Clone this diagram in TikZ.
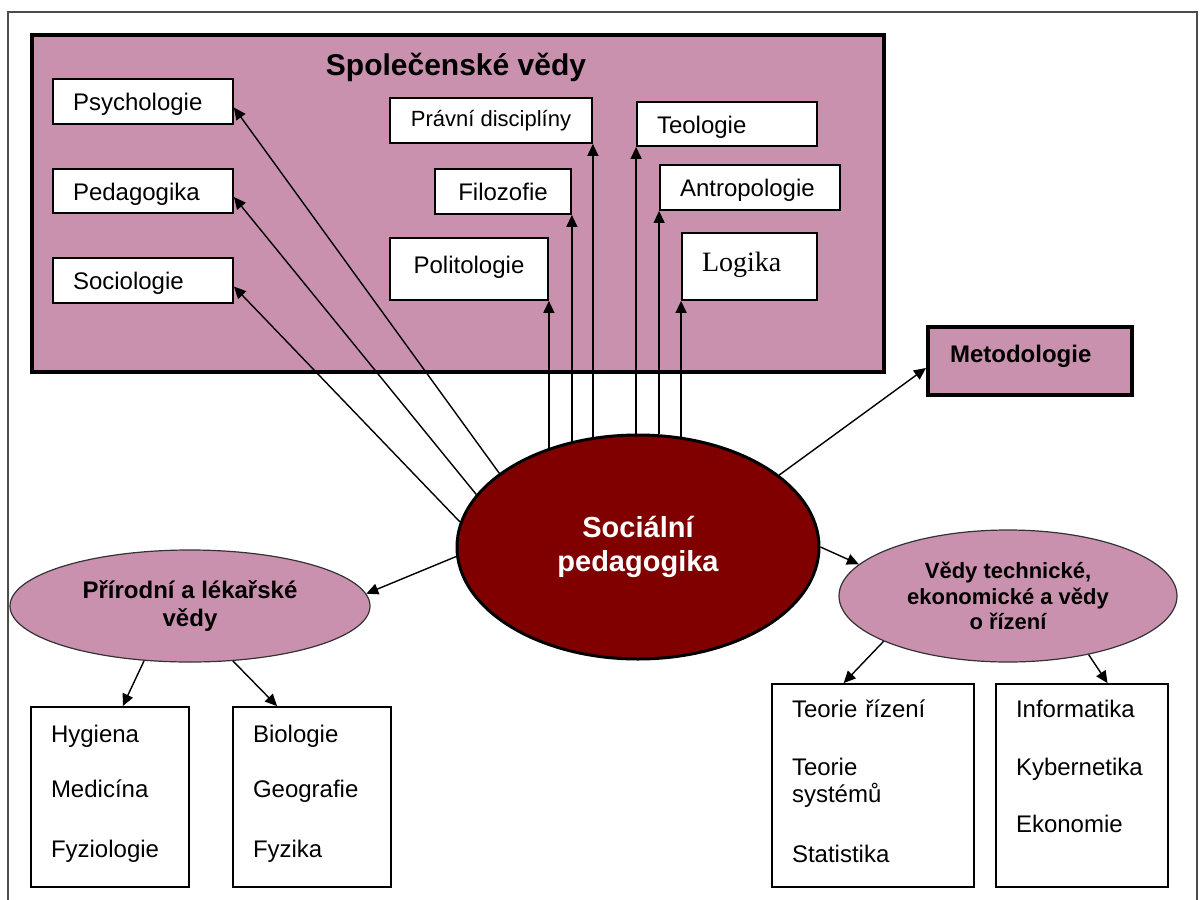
\documentclass[tikz,border=0pt]{standalone}
\usepackage{fontspec}
\setmainfont{Liberation Sans}
\newfontfamily\serifnode{Liberation Serif}
\usetikzlibrary{shapes.geometric,arrows.meta}
\definecolor{mauve}{RGB}{201,145,173}
\definecolor{spred}{RGB}{128,0,0}
\tikzset{
	sci/.style={draw,fill=white,line width=0.9pt,inner xsep=10pt,inner ysep=0pt,text height=11pt,text depth=2pt,font=\fontsize{12}{14.5}\selectfont},
	leftsci/.style={sci,align=left,text width=#1},
	grp/.style={ellipse,draw=black!80,line width=0.6pt,fill=mauve,inner sep=0pt,align=center},
	arr/.style={-{Triangle[length=6pt,width=5.5pt]},line width=0.7pt},
}

\begin{document}
\begin{tikzpicture}[x=0.5pt,y=-0.5pt]
		\useasboundingbox (0,0) rectangle (1200,900);
		\draw[line width=0.75pt,black!70] (8,910) -- (8,12) -- (1197,12) -- (1197,910);
		\node[draw,line width=2pt,fill=mauve,minimum width=426pt,minimum height=168.5pt] (sv) at (458,203.5) {};
		\node[anchor=base,font=\bfseries\fontsize{15}{18}\selectfont] (svtitle) at (456,75) {Společenské vědy};
		\node[leftsci=70pt,minimum height=22.5pt] (psy) at (143,101.5) {Psychologie};
		\node[leftsci=70pt,minimum height=22pt] (ped) at (143,191) {Pedagogika};
		\node[leftsci=70pt,minimum height=22.5pt] (soc) at (143,280.5) {Sociologie};
		\node[sci,minimum width=101pt,minimum height=22.5pt,text height=9pt,text depth=3pt,font=\fontsize{11}{13}\selectfont] (prav) at (491,120.5) {Právní disciplíny};
		\node[sci,minimum width=68pt,minimum height=22.5pt] (filo) at (503,191.5) {Filozofie};
		\node[sci,minimum width=79pt,minimum height=31pt,text height=9pt,text depth=5pt] (pol) at (469,269) {Politologie};
		\node[leftsci=70pt,minimum height=22pt] (teo) at (727,124) {Teologie};
		\node[leftsci=70pt,minimum height=22.5pt] (antr) at (750,187.5) {Antropologie};
		\node[leftsci=47.5pt,minimum height=33.5pt,text height=9.5pt,text depth=5pt,font=\serifnode\fontsize{14}{17}\selectfont] (log) at (749.5,266.5) {Logika};
		\node[draw,line width=2pt,fill=mauve,minimum height=34pt,inner xsep=11pt,inner ysep=0pt,align=left,text width=80pt,text depth=6.75pt,font=\bfseries\fontsize{12}{14.5}\selectfont] (met) at (1030,361) {Metodologie};
		\node[ellipse,draw,line width=1.5pt,fill=spred,text=white,minimum width=181pt,minimum height=112pt,inner sep=0pt,align=center,font=\bfseries\fontsize{14.5}{17}\selectfont] (sp) at (638,547) {Sociální\\pedagogika};
		\node[grp,minimum width=180pt,minimum height=56pt,font=\bfseries\fontsize{12}{14}\selectfont] (prir) at (190,606) {Přírodní a lékařské\\vědy};
		\node[grp,minimum width=169pt,minimum height=66pt,font=\bfseries\fontsize{11}{12.75}\selectfont] (ved) at (1008,596) {Vědy technické,\\ekonomické a vědy\\o řízení};
		\node[leftsci=59pt,text height=17.5pt,text depth=72.5pt] (hyg) at (110,797) {Hygiena\\[13pt]Medicína\\[15.5pt]Fyziologie};
		\node[leftsci=59pt,text height=17.5pt,text depth=72.5pt] (bio) at (312,797) {Biologie\\[13pt]Geografie\\[15.5pt]Fyzika};
		\node[leftsci=81pt,text height=16.5pt,text depth=85pt,font=\fontsize{12}{13.5}\selectfont] (teor) at (873,785.5) {Teorie řízení\\[15.5pt]Teorie\\systémů\\[16.5pt]Statistika};
		\node[leftsci=66pt,text height=16.5pt,text depth=85pt] (inf) at (1082,785.5) {Informatika\\[14.5pt]Kybernetika\\[14pt]Ekonomie};
		\draw[arr] (sp.152) -- ([yshift=-3pt]psy.east);
		\draw[arr] (sp.162) -- ([yshift=-3pt]ped.east);
		\draw[arr] (sp.172) -- ([yshift=-3pt]soc.east);
		\draw[arr] (pol.south east |- sp.133) -- (pol.south east);
		\draw[arr] (filo.south east |- sp.123) -- (filo.south east);
		\draw[arr] (prav.south east |- sp.113) -- (prav.south east);
		\draw[arr] (teo.south west |- sp.91) -- (teo.south west);
		\draw[arr] (antr.south west |- sp.79) -- (antr.south west);
		\draw[arr] (log.south west |- sp.68) -- (log.south west);
		\draw[arr] (sp.27) -- ([yshift=-3.5pt]met.west);
		\draw[arr] (sp.183) -- (prir.4);
		\draw[arr] (sp.east) -- (ved.168);
		\draw[arr] (prir.230) -- (hyg.82);
		\draw[arr] (prir.-52) -- (bio.111);
		\draw[arr] (ved.200) -- (teor.106);
		\draw[arr] (ved.-36) -- (inf.76);
	\end{tikzpicture}
\end{document}
